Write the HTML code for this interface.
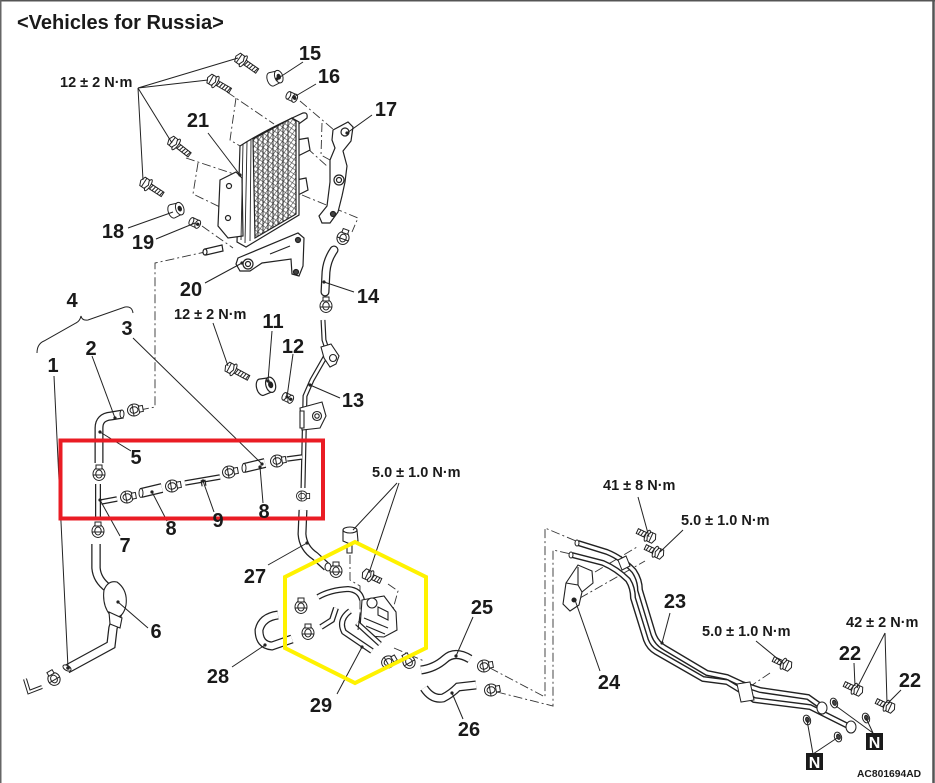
<!DOCTYPE html>
<html><head><meta charset="utf-8">
<style>
html,body{margin:0;padding:0;background:#fff;}
body{width:935px;height:783px;overflow:hidden;}
svg{display:block;}
text{font-family:"Liberation Sans",Arial,sans-serif;font-weight:bold;fill:#1a1a1a;}
</style></head><body>
<svg width="935" height="783" viewBox="0 0 935 783" xmlns="http://www.w3.org/2000/svg">
<defs>
  <pattern id="fin" width="4" height="4" patternUnits="userSpaceOnUse" patternTransform="rotate(35)">
    <rect width="4" height="4" fill="#fff"/>
    <line x1="0" y1="0" x2="0" y2="4" stroke="#333" stroke-width="1.1"/>
    <line x1="0" y1="2" x2="4" y2="2" stroke="#555" stroke-width="0.7"/>
  </pattern>
  <g id="bolt" stroke="#222" stroke-width="1" fill="#fff">
    <rect x="4" y="-2.6" width="17" height="5.2"/>
    <path d="M8,-2.6 l-1,5.2 M11,-2.6 l-1,5.2 M14,-2.6 l-1,5.2 M17,-2.6 l-1,5.2 M20,-2.6 l-1,5.2" fill="none"/>
    <ellipse cx="4" cy="0" rx="2" ry="6.5"/>
    <polygon points="-3,-5 2,-5 4,0 2,5 -3,5 -5,0"/>
    <line x1="-1" y1="-5" x2="-1" y2="5"/>
  </g>
  <g id="sbolt" stroke="#222" stroke-width="1" fill="#fff">
    <rect x="3" y="-2.6" width="11" height="5.2"/>
    <path d="M6,-2.6 l-1,5.2 M9,-2.6 l-1,5.2 M12,-2.6 l-1,5.2" fill="none"/>
    <ellipse cx="3" cy="0" rx="2" ry="6"/>
    <polygon points="-4,-5 1,-5 3,0 1,5 -4,5 -6,0"/>
    <line x1="-1" y1="-5" x2="-1" y2="5"/>
  </g>
  <g id="clamp" stroke="#222" stroke-width="1" fill="#fff">
    <ellipse cx="0" cy="0" rx="6" ry="6.5"/>
    <ellipse cx="0" cy="0" rx="3.2" ry="4"/>
    <rect x="-3" y="-9" width="6" height="4"/>
    <path d="M-6,1 L6,1" fill="none"/>
  </g>
  <g id="ring" stroke="#222" stroke-width="1" fill="#fff">
    <path d="M-4,-7 L4,-6 A4,7 0 0 1 4,6 L-4,7 A4,7 0 0 1 -4,-7 Z"/>
    <ellipse cx="4" cy="0" rx="4" ry="6.5"/>
    <ellipse cx="4" cy="0" rx="1.6" ry="2.4" fill="#222"/>
  </g>
  <g id="collar" stroke="#222" stroke-width="1" fill="#fff">
    <path d="M-4,-4 L3,-4 L3,4 L-4,4 Z"/>
    <ellipse cx="-4" cy="0" rx="2" ry="4"/>
    <ellipse cx="3" cy="0" rx="2.5" ry="4.3"/>
    <circle cx="3" cy="0" r="1.2" fill="#222"/>
  </g>
  <g id="washer" stroke="#222" stroke-width="1" fill="#fff">
    <ellipse cx="0" cy="0" rx="3.5" ry="5"/>
    <ellipse cx="0.5" cy="0" rx="1.8" ry="2.6" fill="#444"/>
  </g>
</defs>

<rect x="0" y="0" width="935" height="783" fill="#fff"/>
<line x1="0" y1="0.75" x2="935" y2="0.75" stroke="#555" stroke-width="1.5"/>
<line x1="0.75" y1="0" x2="0.75" y2="783" stroke="#666" stroke-width="1.5"/>
<line x1="933.5" y1="0" x2="933.5" y2="783" stroke="#555" stroke-width="2.5"/>

<text x="17" y="29" font-size="20">&lt;Vehicles for Russia&gt;</text>

<g stroke="#333" stroke-width="0.9" fill="none" stroke-dasharray="9,3,2,3">
  <path d="M227,92 L274,124"/>
  <path d="M236,98 L230,140 L240,146"/>
  <path d="M186,158 L240,176"/>
  <path d="M198,163 L193,194 L222,208"/>
  <path d="M300,101 L334,130"/>
  <path d="M322,123 L321,155 L330,160"/>
  <path d="M307,148 L328,167"/>
  <path d="M302,195 L358,218 L352,232"/>
  <path d="M202,226 L233,248"/>
  <path d="M140,410 L155,407 L155,263 L205,252"/>
  <path d="M350,555 L350,580 L360,586 L360,628"/>
  <path d="M388,584 L398,591 L390,620"/>
  <path d="M490,668 L545,697 L545,528 L576,541"/>
  <path d="M497,692 L553,706 L553,550 L571,554"/>
  <path d="M394,648 L424,661"/>
  <path d="M595,572 L637,547"/>
  <path d="M580,598 L645,561"/>
  <path d="M770,673 L745,690"/>
</g>

<use href="#bolt" transform="translate(240,59) rotate(35)"/>
<use href="#bolt" transform="translate(212,80) rotate(30)"/>
<use href="#bolt" transform="translate(173,142) rotate(38)"/>
<use href="#bolt" transform="translate(145,183) rotate(33)"/>
<use href="#ring" transform="translate(275,78) rotate(-20)"/>
<use href="#collar" transform="translate(292,97) rotate(25)"/>
<use href="#ring" transform="translate(176,210) rotate(-20)"/>
<use href="#collar" transform="translate(195,223) rotate(25)"/>

<g stroke="#222" stroke-width="1.2" fill="#fff">
  <path d="M296,140 L308,138 L310,150 L298,156 Z"/>
  <path d="M296,180 L306,178 L308,190 L298,195 Z"/>
  <path d="M290,119 L303,113 Q308,112 307,118 L296,126 Z"/>
  <path d="M240,146 Q262,132 292,118 L299,122 L299,215 L246,247 L237,242 Z"/>
  <path d="M253,139 L292,118 L296,121 L296,214 L255,238 Z" fill="url(#fin)"/>
  <path d="M220,180 L236,172 L242,178 L243,236 L228,238 L218,226 Z"/>
  <circle cx="229" cy="186" r="2.5"/>
  <circle cx="228" cy="218" r="2.5"/>
</g>
<g stroke="#222" stroke-width="0.9" fill="none">
  <path d="M243,144 L241,240 M247,142 L245,243 M251,140 L250,241"/>
  <path d="M258,136 L258,236 M263,133 L263,233 M268,130 L268,230 M273,128 L273,227 M278,125 L278,224 M283,123 L283,221 M288,120 L288,218"/>
</g>
<g stroke="#222" stroke-width="1.2" fill="#fff">
  <path d="M238,258 L298,233 L304,238 L303,266 L299,276 L292,274 L291,259 L262,263 L250,271 L240,271 L236,264 Z"/>
  <circle cx="248" cy="264" r="5"/>
  <circle cx="248" cy="264" r="2.5"/>
  <path d="M270,254 L290,246" fill="none"/>
  <circle cx="298" cy="240" r="2.5" fill="#444"/>
  <circle cx="296" cy="272" r="2.5" fill="#444"/>
  <path d="M205,249 L222,245 L223,251 L206,255 Z"/>
  <ellipse cx="205" cy="252" rx="2" ry="3"/>
</g>
<g stroke="#222" stroke-width="1.2" fill="#fff">
  <path d="M333,130 L348,122 L353,127 L351,141 L343,151 L347,166 L345,182 L342,196 L338,212 L330,223 L322,223 L319,216 L327,206 L330,182 L330,160 L335,148 L332,140 Z"/>
  <circle cx="345" cy="132" r="4"/>
  <circle cx="339" cy="180" r="5"/>
  <circle cx="339" cy="180" r="2.5"/>
  <circle cx="333" cy="214" r="2.5" fill="#444"/>
</g>
<use href="#clamp" transform="translate(343,238) rotate(20)"/>
<path d="M334,250 Q327,260 326,272 L325,292" stroke="#222" stroke-width="9" fill="none" stroke-linecap="round"/>
<path d="M334,250 Q327,260 326,272 L325,292" stroke="#fff" stroke-width="6.5" fill="none" stroke-linecap="round"/>
<use href="#clamp" transform="translate(326,306)"/>

<path d="M323,320 L324,340 L328,352 L312,380 L305,396 L303,488" stroke="#222" stroke-width="5" fill="none"/>
<path d="M323,320 L324,340 L328,352 L312,380 L305,396 L303,488" stroke="#fff" stroke-width="2.6" fill="none"/>
<g stroke="#222" stroke-width="1.1" fill="#fff">
  <path d="M321,347 L331,344 L339,356 L336,364 L330,367 L324,358 Z"/>
  <circle cx="333" cy="358" r="3.5"/>
  <path d="M300,408 L322,402 L326,416 L320,428 L302,430 Z"/>
  <circle cx="317" cy="416" r="4.5"/>
  <circle cx="317" cy="416" r="2.2"/>
  <path d="M300,411 L304,411 L304,428 L300,428 Z"/>
</g>
<use href="#bolt" transform="translate(230,368) rotate(28)"/>
<use href="#ring" transform="translate(266,386) rotate(-15) scale(1.2)"/>
<use href="#collar" transform="translate(288,398) rotate(25)"/>

<path d="M99,463 L99,428 Q99,417 111,416 L123,414" stroke="#222" stroke-width="9" fill="none"/>
<path d="M99,463 L99,428 Q99,417 111,416 L123,414" stroke="#fff" stroke-width="6.5" fill="none"/>
<ellipse cx="122" cy="414" rx="2" ry="4" fill="#fff" stroke="#222"/>
<use href="#clamp" transform="translate(134,410) rotate(80)"/>
<use href="#clamp" transform="translate(99,474)"/>
<path d="M98,484 L98,520" stroke="#222" stroke-width="6" fill="none"/>
<path d="M98,484 L98,520" stroke="#fff" stroke-width="3.5" fill="none"/>
<path d="M101,502 L117,499" stroke="#222" stroke-width="5.5" fill="none"/>
<path d="M101,502 L117,499" stroke="#fff" stroke-width="3" fill="none"/>
<use href="#clamp" transform="translate(98,531)"/>
<path d="M96,544 L96,568 Q97,580 108,588 Q120,597 118,612 L113,628 L111,645 L67,669" stroke="#222" stroke-width="9.5" fill="none"/>
<path d="M96,544 L96,568 Q97,580 108,588 Q120,597 118,612 L113,628 L111,645 L67,669" stroke="#fff" stroke-width="7" fill="none"/>
<path d="M104,590 Q108,580 117,582 Q128,590 126,605 Q124,615 118,617 L110,615 Q102,605 104,590 Z" fill="#fff" stroke="#222" stroke-width="1.1"/>
<path d="M109,612 L122,618 L120,628 L110,624 Z" fill="#fff" stroke="#222" stroke-width="1.1"/>
<ellipse cx="67" cy="668" rx="2.5" ry="4.5" transform="rotate(-60 67 668)" fill="#fff" stroke="#222"/>
<use href="#clamp" transform="translate(54,679) rotate(-30)"/>
<path d="M25,679 L29,692 L42,687" stroke="#222" stroke-width="4" fill="none"/>
<path d="M25,679 L29,692 L42,687" stroke="#fff" stroke-width="2" fill="none"/>

<path d="M37,353 Q37,344 44,341 L76,323 Q80,321 81,316 Q82,321 88,320 L125,307 Q132,306 133,313" stroke="#222" stroke-width="1" fill="none"/>

<use href="#clamp" transform="translate(127,497) rotate(80)"/>
<path d="M141,493 L162,488" stroke="#222" stroke-width="10" fill="none"/>
<path d="M141,493 L162,488" stroke="#fff" stroke-width="7.5" fill="none"/>
<ellipse cx="141" cy="493" rx="2" ry="4.5" fill="#fff" stroke="#222"/>
<use href="#clamp" transform="translate(172,486) rotate(80)"/>
<path d="M185,483 L220,477" stroke="#222" stroke-width="5.5" fill="none"/>
<path d="M185,483 L220,477" stroke="#fff" stroke-width="3" fill="none"/>
<path d="M203,480 L204,486" stroke="#222" stroke-width="5" fill="none"/>
<path d="M203,480 L204,486" stroke="#fff" stroke-width="2.6" fill="none"/>
<use href="#clamp" transform="translate(229,472) rotate(80)"/>
<path d="M244,468 L265,463" stroke="#222" stroke-width="10" fill="none"/>
<path d="M244,468 L265,463" stroke="#fff" stroke-width="7.5" fill="none"/>
<ellipse cx="244" cy="468" rx="2" ry="4.5" fill="#fff" stroke="#222"/>
<use href="#clamp" transform="translate(277,461) rotate(80)"/>
<path d="M287,459 L302,457" stroke="#222" stroke-width="5.5" fill="none"/>
<path d="M287,459 L302,457" stroke="#fff" stroke-width="3" fill="none"/>
<use href="#clamp" transform="translate(302,496) rotate(90) scale(0.85)"/>

<path d="M303,510 L302,534 Q303,548 315,556 L327,567" stroke="#222" stroke-width="9" fill="none"/>
<path d="M303,510 L302,534 Q303,548 315,556 L327,567" stroke="#fff" stroke-width="6.5" fill="none"/>
<ellipse cx="328" cy="567" rx="3" ry="4" fill="#fff" stroke="#222"/>

<g stroke="#222" stroke-width="1.1" fill="#fff">
  <path d="M343,530 L357,530 L358,541 L350,544 L343,541 Z"/>
  <ellipse cx="350" cy="530" rx="7" ry="3"/>
  <path d="M347,544 L347,553 L352,553 L352,544"/>
</g>
<use href="#clamp" transform="translate(336,571)"/>
<use href="#sbolt" transform="translate(368,575) rotate(25)"/>
<path d="M318,597 Q330,590 348,589 Q360,590 362,600" stroke="#222" stroke-width="6" fill="none"/>
<path d="M318,597 Q330,590 348,589 Q360,590 362,600" stroke="#fff" stroke-width="3.5" fill="none"/>
<use href="#clamp" transform="translate(301,607)"/>
<path d="M321,627 L332,620 L336,608" stroke="#222" stroke-width="6" fill="none"/>
<path d="M321,627 L332,620 L336,608" stroke="#fff" stroke-width="3.5" fill="none"/>
<use href="#clamp" transform="translate(308,633)"/>
<g stroke="#222" stroke-width="1.1" fill="#fff">
  <path d="M362,600 L384,596 L396,612 L397,630 L384,637 L368,636 L360,628 Z"/>
  <path d="M364,618 L388,628 M366,626 L385,634" fill="none"/>
  <circle cx="372" cy="603" r="5"/>
  <path d="M378,607 L388,612 L388,620 L378,615 Z"/>
</g>
<path d="M350,611 Q338,620 344,632 L372,651" stroke="#222" stroke-width="6" fill="none"/>
<path d="M350,611 Q338,620 344,632 L372,651" stroke="#fff" stroke-width="3.5" fill="none"/>
<path d="M357,623 L380,644" stroke="#222" stroke-width="5.5" fill="none"/>
<path d="M357,623 L380,644" stroke="#fff" stroke-width="3" fill="none"/>
<path d="M360,614 L358,630" stroke="#222" stroke-width="1" fill="none"/>
<path d="M278,615 Q262,617 259,630 Q259,645 272,646 L292,639" stroke="#222" stroke-width="9" fill="none"/>
<path d="M278,615 Q262,617 259,630 Q259,645 272,646 L292,639" stroke="#fff" stroke-width="6.5" fill="none"/>
<use href="#clamp" transform="translate(388,662) rotate(60)"/>
<use href="#clamp" transform="translate(409,662) rotate(-30)"/>

<path d="M421,670 Q435,668 445,659 Q455,650 470,659" stroke="#222" stroke-width="9" fill="none"/>
<path d="M421,670 Q435,668 445,659 Q455,650 470,659" stroke="#fff" stroke-width="6.5" fill="none"/>
<path d="M424,688 Q432,700 443,698 Q451,694 458,687 L476,685" stroke="#222" stroke-width="9" fill="none"/>
<path d="M424,688 Q432,700 443,698 Q451,694 458,687 L476,685" stroke="#fff" stroke-width="6.5" fill="none"/>
<use href="#clamp" transform="translate(484,666) rotate(80)"/>
<use href="#clamp" transform="translate(491,690) rotate(80)"/>

<g fill="none">
  <path d="M578,543 L607,552 Q622,558 634,571 Q640,580 640,590 L653,633 Q656,643 665,648 L707,673 L727,677 L742,684 L760,690 L808,697 L822,707" stroke="#222" stroke-width="6"/>
  <path d="M578,543 L607,552 Q622,558 634,571 Q640,580 640,590 L653,633 Q656,643 665,648 L707,673 L727,677 L742,684 L760,690 L808,697 L822,707" stroke="#fff" stroke-width="3.2"/>
  <path d="M572,555 L603,563 Q617,569 628,580 Q633,588 633,598 L646,640 Q649,648 656,652 L703,679 L727,682 L740,690 L754,700 L810,707 L850,727" stroke="#222" stroke-width="6"/>
  <path d="M572,555 L603,563 Q617,569 628,580 Q633,588 633,598 L646,640 Q649,648 656,652 L703,679 L727,682 L740,690 L754,700 L810,707 L850,727" stroke="#fff" stroke-width="3.2"/>
</g>
<g stroke="#222" stroke-width="1" fill="#fff">
  <ellipse cx="577" cy="543" rx="2" ry="3"/>
  <ellipse cx="571" cy="555" rx="2" ry="3"/>
  <path d="M618,560 L626,556 L630,566 L622,570 Z"/>
  <path d="M737,684 L750,682 L754,700 L741,702 Z"/>
  <ellipse cx="822" cy="708" rx="5" ry="6"/>
  <ellipse cx="851" cy="727" rx="5" ry="6"/>
</g>
<g stroke="#222" stroke-width="1.1" fill="#fff">
  <path d="M566,583 L578,565 L592,571 L593,583 L582,592 L579,605 L570,611 L563,604 Z"/>
  <path d="M578,567 L578,585 L566,583 M578,585 L582,592" fill="none"/>
  <circle cx="574" cy="600" r="2" fill="#222"/>
</g>
<use href="#sbolt" transform="translate(650,537) rotate(205)"/>
<use href="#sbolt" transform="translate(658,553) rotate(205)"/>
<use href="#sbolt" transform="translate(786,665) rotate(205)"/>
<use href="#sbolt" transform="translate(857,690) rotate(205)"/>
<use href="#sbolt" transform="translate(889,707) rotate(205)"/>
<use href="#washer" transform="translate(834,703) rotate(-20)"/>
<use href="#washer" transform="translate(866,718) rotate(-20)"/>
<use href="#washer" transform="translate(807,720) rotate(-20)"/>
<use href="#washer" transform="translate(838,737) rotate(-20)"/>

<g stroke="#222" stroke-width="1" fill="none">
  <path d="M138,88 L238,58 M138,88 L208,80 M138,88 L172,143 M138,88 L143,180"/>
  <path d="M303,62 L277,79"/>
  <path d="M316,84 L294,97"/>
  <path d="M372,115 L347,133"/>
  <path d="M208,133 L240,175"/>
  <path d="M128,228 L173,212"/>
  <path d="M156,239 L195,223"/>
  <path d="M205,283 L242,263"/>
  <path d="M354,292 L324,282"/>
  <path d="M133,338 L262,464"/>
  <path d="M92,356 L115,418"/>
  <path d="M131,451 L100,432"/>
  <path d="M54,376 L68,668"/>
  <path d="M213,323 L228,366"/>
  <path d="M272,331 L268,381"/>
  <path d="M293,354 L287,397"/>
  <path d="M340,398 L310,385"/>
  <path d="M263,503 L260,467"/>
  <path d="M214,512 L203,481"/>
  <path d="M167,521 L152,492"/>
  <path d="M120,536 L100,500"/>
  <path d="M397,483 L353,530 M399,483 L369,573"/>
  <path d="M148,628 L118,602"/>
  <path d="M268,565 L307,543"/>
  <path d="M232,667 L265,645"/>
  <path d="M337,694 L362,647"/>
  <path d="M473,617 L456,656"/>
  <path d="M463,719 L452,693"/>
  <path d="M638,497 L649,537"/>
  <path d="M683,530 L660,552"/>
  <path d="M670,613 L662,643"/>
  <path d="M600,671 L575,600"/>
  <path d="M756,641 L784,664"/>
  <path d="M885,633 L857,688 M885,633 L887,703"/>
  <path d="M854,663 L855,686"/>
  <path d="M901,690 L888,703"/>
  <path d="M813,754 L807,720 M813,754 L837,738"/>
  <path d="M873,733 L836,706 M873,733 L866,718"/>
</g>
<g fill="#222">
  <circle cx="240" cy="175" r="1.6"/><circle cx="115" cy="418" r="1.6"/><circle cx="100" cy="432" r="1.6"/>
  <circle cx="262" cy="464" r="1.6"/><circle cx="260" cy="467" r="1.6"/><circle cx="203" cy="481" r="1.6"/>
  <circle cx="152" cy="492" r="1.6"/><circle cx="100" cy="500" r="1.6"/><circle cx="118" cy="602" r="1.6"/>
  <circle cx="307" cy="543" r="1.6"/><circle cx="265" cy="645" r="1.6"/><circle cx="362" cy="647" r="1.6"/>
  <circle cx="456" cy="656" r="1.6"/><circle cx="452" cy="693" r="1.6"/><circle cx="662" cy="643" r="1.6"/>
  <circle cx="575" cy="600" r="1.6"/><circle cx="310" cy="385" r="1.6"/><circle cx="324" cy="282" r="1.6"/>
  <circle cx="242" cy="263" r="1.6"/><circle cx="68" cy="668" r="1.8"/><circle cx="268" cy="381" r="1.6"/>
  <circle cx="287" cy="397" r="1.6"/><circle cx="277" cy="79" r="1.6"/><circle cx="294" cy="97" r="1.6"/>
  <circle cx="347" cy="133" r="1.6"/>
</g>

<rect x="60.5" y="440.5" width="262.5" height="78" fill="none" stroke="#ea1c24" stroke-width="4"/>
<polygon points="355,542 426,577 426,648 355,683 285,648 285,577" fill="none" stroke="#fff200" stroke-width="4"/>

<g font-size="20" text-anchor="middle">
  <text x="310" y="60">15</text>
  <text x="329" y="83">16</text>
  <text x="386" y="116">17</text>
  <text x="198" y="127">21</text>
  <text x="113" y="238">18</text>
  <text x="143" y="249">19</text>
  <text x="191" y="296">20</text>
  <text x="368" y="303">14</text>
  <text x="72" y="307">4</text>
  <text x="127" y="335">3</text>
  <text x="91" y="355">2</text>
  <text x="53" y="372">1</text>
  <text x="273" y="328">11</text>
  <text x="293" y="353">12</text>
  <text x="353" y="407">13</text>
  <text x="136" y="464">5</text>
  <text x="264" y="518">8</text>
  <text x="218" y="527">9</text>
  <text x="171" y="535">8</text>
  <text x="125" y="552">7</text>
  <text x="156" y="638">6</text>
  <text x="255" y="583">27</text>
  <text x="218" y="683">28</text>
  <text x="321" y="712">29</text>
  <text x="482" y="614">25</text>
  <text x="469" y="736">26</text>
  <text x="675" y="608">23</text>
  <text x="609" y="689">24</text>
  <text x="850" y="660">22</text>
  <text x="910" y="687">22</text>
</g>
<g font-size="14.5">
  <text x="60" y="87">12 ± 2 N·m</text>
  <text x="174" y="319">12 ± 2 N·m</text>
  <text x="372" y="477">5.0 ± 1.0 N·m</text>
  <text x="603" y="490">41 ± 8 N·m</text>
  <text x="681" y="525">5.0 ± 1.0 N·m</text>
  <text x="702" y="636">5.0 ± 1.0 N·m</text>
  <text x="846" y="627">42 ± 2 N·m</text>
</g>
<rect x="806" y="753" width="17" height="17" fill="#1a1a1a"/>
<rect x="866" y="733" width="17" height="17" fill="#1a1a1a"/>
<g font-size="16" text-anchor="middle">
  <text x="814.5" y="768" style="fill:#fff">N</text>
  <text x="874.5" y="748" style="fill:#fff">N</text>
</g>
<text x="857" y="777" font-size="10.3">AC801694AD</text>
</svg>
</body></html>
